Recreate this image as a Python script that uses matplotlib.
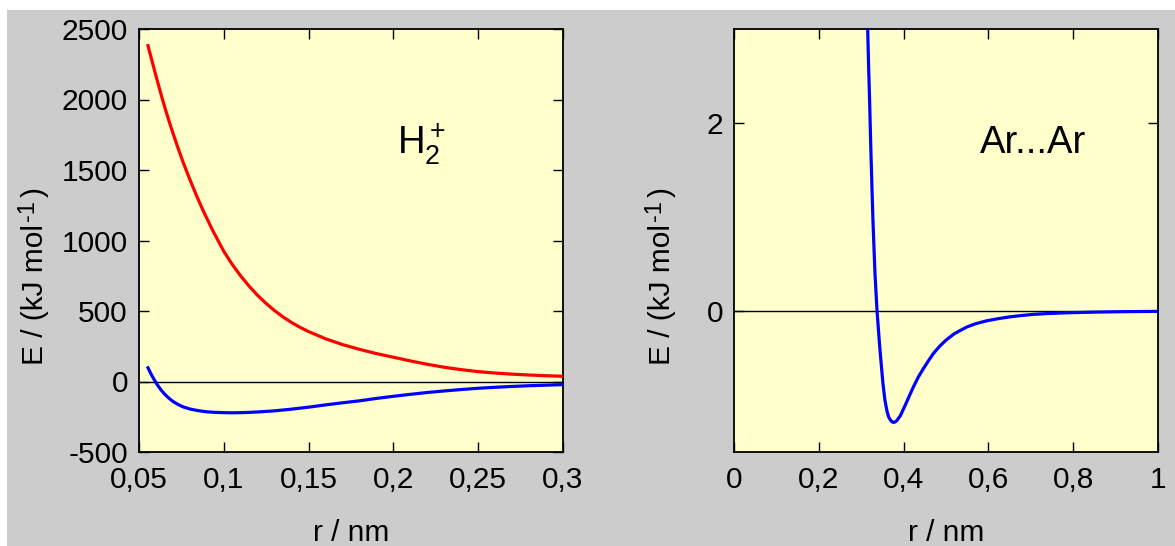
import matplotlib
matplotlib.use("Agg")
import matplotlib.pyplot as plt
from matplotlib.patches import Rectangle

# Fonts (Arial look-alike)
plt.rcParams['font.family'] = ['Liberation Sans', 'DejaVu Sans']
plt.rcParams['mathtext.fontset'] = 'custom'
plt.rcParams['mathtext.rm'] = 'Liberation Sans'
plt.rcParams['mathtext.it'] = 'Liberation Sans'
plt.rcParams['mathtext.default'] = 'regular'
plt.rcParams['axes.unicode_minus'] = False

# Colors
GRAY = '#cccccc'
PAPER = '#ffffcc'
RED = '#ff0000'
BLUE = '#0000ff'

# H2+ : repulsive (red) curve, kJ/mol vs nm
r_red = [0.0553, 0.0575, 0.0600, 0.0625, 0.0650, 0.0675, 0.0700, 0.0730, 0.0760,
         0.0800, 0.0840, 0.0880, 0.0935, 0.1000, 0.1050, 0.1100, 0.1150, 0.1200,
         0.1250, 0.1300, 0.1350, 0.1400, 0.1450, 0.1500, 0.1600, 0.1700, 0.1800,
         0.1900, 0.2000, 0.2100, 0.2200, 0.2300, 0.2400, 0.2500, 0.2600, 0.2700,
         0.2800, 0.2900, 0.3000]
E_red = [2382, 2281, 2168, 2058, 1953, 1855, 1762, 1656, 1555,
         1432, 1316, 1207, 1070, 923, 830, 748, 675, 610,
         553, 502, 457, 418, 384, 354, 303, 262, 228,
         198, 172, 146, 122, 101, 84, 70, 60, 52,
         46, 41, 37]

# H2+ : bonding (blue) curve
r_blue = [0.0553, 0.0570, 0.0590, 0.0610, 0.0630, 0.0650, 0.0675, 0.0700, 0.0730,
          0.0760, 0.0800, 0.0850, 0.0900, 0.0950, 0.1000, 0.1050, 0.1100, 0.1150,
          0.1200, 0.1300, 0.1400, 0.1500, 0.1600, 0.1700, 0.1800, 0.1900, 0.2000,
          0.2100, 0.2200, 0.2300, 0.2400, 0.2500, 0.2600, 0.2700, 0.2800, 0.2900,
          0.3000]
E_blue = [97, 55, 12, -27, -60, -88, -117, -141, -163,
          -180, -195, -207, -215, -219, -221, -222, -221, -219,
          -216, -208, -196, -182, -166, -151, -137, -120, -105,
          -91, -78, -67, -57, -48, -41, -35, -30, -26,
          -22]

# Ar...Ar pair potential
r_ar = [0.3150, 0.3175, 0.3200, 0.3225, 0.3250, 0.3275, 0.3300, 0.3325, 0.3350,
        0.3375, 0.3400, 0.3435, 0.3475, 0.3515, 0.3560, 0.3610, 0.3650, 0.3690,
        0.3730, 0.3765, 0.3800, 0.3843, 0.3880, 0.3922, 0.4000, 0.4080, 0.4158,
        0.4250, 0.4350, 0.4470, 0.4600, 0.4706, 0.4850, 0.5000, 0.5200, 0.5492,
        0.5700, 0.5962, 0.6250, 0.6510, 0.6800, 0.7059, 0.7400, 0.7843, 0.8300,
        0.8627, 0.9200, 1.0000]
E_ar = [3.05, 2.60, 2.21, 1.76, 1.37, 0.99, 0.69, 0.40, 0.19,
        -0.01, -0.16, -0.37, -0.58, -0.78, -0.95, -1.07, -1.13, -1.16,
        -1.18, -1.185, -1.18, -1.165, -1.14, -1.115, -1.04, -0.96, -0.88,
        -0.79, -0.70, -0.61, -0.52, -0.45, -0.375, -0.31, -0.24, -0.17,
        -0.135, -0.104, -0.08, -0.062, -0.047, -0.036, -0.027, -0.019, -0.014,
        -0.011, -0.007, -0.004]

# Tick labels (comma decimals)
h2_xticks = [0.05, 0.1, 0.15, 0.2, 0.25, 0.3]
h2_xlabels = ['0,05', '0,1', '0,15', '0,2', '0,25', '0,3']
h2_yticks = [-500, 0, 500, 1000, 1500, 2000, 2500]
ar_xticks = [0, 0.2, 0.4, 0.6, 0.8, 1.0]
ar_xlabels = ['0', '0,2', '0,4', '0,6', '0,8', '1']
ar_yticks = [0, 2]

FS = 21.5


def energy_label(ax, x, y0):
    # E / (kJ mol^-1) built from pieces so the superscript stays large
    t1 = ax.text(x, y0, 'E / (kJ mol', transform=ax.transAxes, rotation=90,
                 ha='center', va='bottom', fontsize=FS)
    t2 = ax.annotate('-1', xy=(0, 1), xycoords=t1, xytext=(-4, 3),
                     textcoords='offset pixels', rotation=90,
                     ha='left', va='bottom', fontsize=17)
    ax.annotate(')', xy=(0.5, 1), xycoords=(t1, t2), xytext=(0, 3),
                textcoords='offset pixels', rotation=90,
                ha='center', va='bottom', fontsize=FS)


W, H = 1175, 546
fig = plt.figure(figsize=(W / 100, H / 100), dpi=100, facecolor='white')
fig.patches.append(Rectangle((7 / W, 0), 1 - 7 / W, 1 - 10 / H, transform=fig.transFigure,
                             facecolor=GRAY, edgecolor='none', zorder=-10))

ax1 = fig.add_axes([139 / W, 94 / H, 424 / W, 423 / H])
ax2 = fig.add_axes([734 / W, 94 / H, 424 / W, 423 / H])

for ax in (ax1, ax2):
    ax.set_facecolor(PAPER)
    for s in ax.spines.values():
        s.set_linewidth(1.3)
    ax.tick_params(direction='in', length=7.5, width=1.0, top=True, right=True,
                   labelsize=FS)
    ax.tick_params(axis='x', pad=10)
    ax.tick_params(axis='y', pad=8)
    ax.axhline(0, color='black', lw=1.0, zorder=1)

# left panel
ax1.plot(r_red, E_red, color=RED, lw=2.3, zorder=3)
ax1.plot(r_blue, E_blue, color=BLUE, lw=2.3, zorder=3)
ax1.set_xlim(0.05, 0.3)
ax1.set_ylim(-500, 2500)
ax1.set_xticks(h2_xticks)
ax1.set_xticklabels(h2_xlabels)
ax1.set_yticks(h2_yticks)
ax1.set_xlabel('r / nm', fontsize=FS)
ax1.xaxis.set_label_coords(0.5, -0.158)
energy_label(ax1, -0.245, 0.206)
ax1.text(0.608, 0.704, 'H$_2^+$', transform=ax1.transAxes, fontsize=27.5,
         ha='left', va='baseline')

# right panel
ax2.plot(r_ar, E_ar, color=BLUE, lw=2.3, zorder=3)
ax2.set_xlim(0, 1)
ax2.set_ylim(-1.5, 3)
ax2.set_xticks(ar_xticks)
ax2.set_xticklabels(ar_xlabels)
ax2.set_yticks(ar_yticks)
ax2.set_xlabel('r / nm', fontsize=FS)
ax2.xaxis.set_label_coords(0.5, -0.158)
energy_label(ax2, -0.17, 0.206)
ax2.text(0.580, 0.707, 'Ar...Ar', transform=ax2.transAxes, fontsize=27.5,
         ha='left', va='baseline')

fig.savefig('out.png', dpi=100, facecolor=fig.get_facecolor())
